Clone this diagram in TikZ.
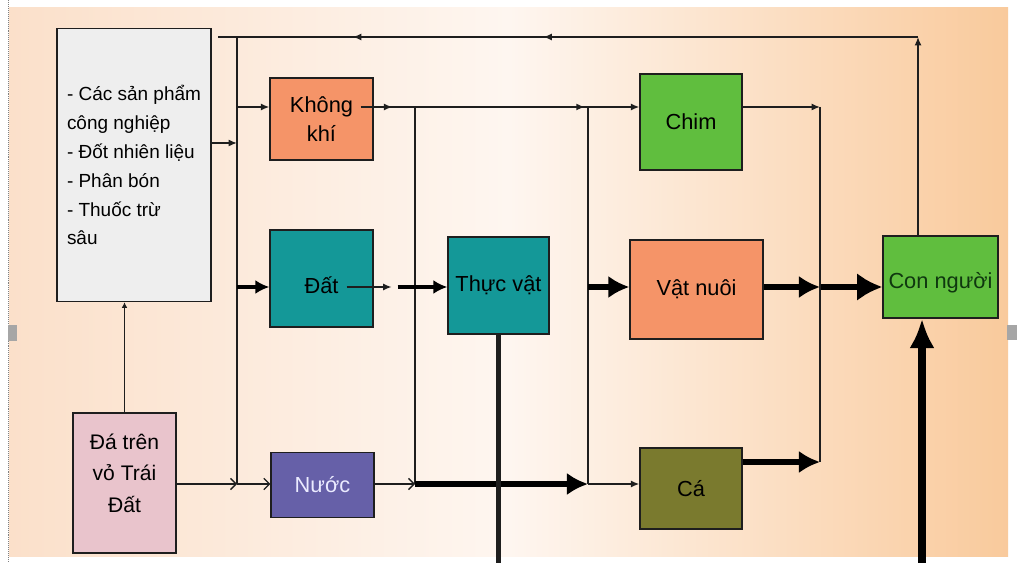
\documentclass[tikz,border=0pt]{standalone}
\usepackage{fontspec}
\setmainfont{Liberation Sans}
\usetikzlibrary{
  arrows.meta,          % Latex, Straight Barb
  calc,                 % toạ độ tính toán
  decorations.markings  % mũi tên giữa đường
}

\definecolor{cam}{RGB}{245,148,104}
\definecolor{xanhngoc}{RGB}{20,152,152}
\definecolor{tim}{RGB}{102,96,168}
\definecolor{hong}{RGB}{233,196,204}
\definecolor{xanhla}{RGB}{96,190,62}
\definecolor{reu}{RGB}{122,122,46}
\definecolor{xam}{RGB}{238,238,238}
\definecolor{net}{RGB}{30,30,30}

\begin{document}
\begin{tikzpicture}[x=0.025cm, y=-0.025cm,
  hop/.style={draw=net, line width=0.9pt, align=center, inner sep=0pt,
              font=\fontsize{15.5}{21}\selectfont},
  tron/.style={draw=net, line width=1.1pt},
  mong/.style={tron, -{Latex[length=6pt,width=5pt]}},
  mo/.style={tron, line width=0.9pt, -{Straight Barb[length=4pt,width=8pt]}},
  dam/.style={draw=black, line width=3pt, -{Latex[length=10pt,width=10pt]}},
  damto/.style={draw=black, line width=4pt, -{Latex[length=15pt,width=16pt]}}
]
  % nền của trang chiếu
  \useasboundingbox (0,0) rectangle (1017,563);
  \fill[white] (0,0) rectangle (1017,563);
  \shade[left color={rgb,255:red,251;green,224;blue,202},
         right color={rgb,255:red,249;green,202;blue,156},
         middle color={rgb,255:red,254;green,246;blue,240}]
    (9,8) rectangle (1008,556);
  \draw[gray, densely dotted] (8,0) -- (8,563);
  \fill[gray!70] (8,325) rectangle (17,341);
  \fill[gray!70] (1007,325) rectangle (1017,340);

  % hàng và cột của các đường nối
  \coordinate (hT) at (0,37);   % đường trả về phía trên
  \coordinate (hA) at (0,107);  % hàng Không khí - Chim
  \coordinate (hN) at (0,143);
  \coordinate (hB) at (0,287);  % hàng Đất - Con người
  \coordinate (hD) at (0,462);
  \coordinate (hC) at (0,484);  % hàng Nước - Cá
  \coordinate (day) at (0,563);
  \coordinate (c1) at (237,0);
  \coordinate (c2) at (415,0);
  \coordinate (c3) at (588,0);
  \coordinate (c4) at (820,0);
  \coordinate (c5) at (918,0);
  \coordinate (c6) at (922,0);

  % 1. các hộp
  \node[hop, fill=xam, minimum width=3.85cm, minimum height=6.825cm, align=left,
        font=\fontsize{13.5}{20.6}\selectfont] (nguon) at (134,165)
    {- Các sản phẩm\\công nghiệp\\- Đốt nhiên liệu\\- Phân bón\\- Thuốc trừ\\sâu};
  \node[hop, fill=hong, minimum width=2.575cm, minimum height=3.5cm,
        font=\fontsize{15}{22.7}\selectfont, text depth=14pt] (da) at (124.5,483)
    {Đá trên\\vỏ Trái\\Đất};
  \node[hop, fill=cam, minimum width=2.575cm, minimum height=2.05cm] (khongkhi) at (321.5,119) {Không\\khí};
  \node[hop, fill=xanhngoc, minimum width=2.575cm, minimum height=2.425cm,
        text height=22pt, text depth=0pt] (dat) at (321.5,278.5) {Đất};
  \node[hop, fill=tim, text=white!92!blue, minimum width=2.575cm, minimum height=1.625cm] (nuoc) at (322.5,485) {Nước};
  \node[hop, fill=xanhngoc, minimum width=2.525cm, minimum height=2.425cm] (thucvat) at (498.5,285.5) {Thực vật};
  \node[hop, fill=xanhla, minimum width=2.55cm, minimum height=2.4cm] (chim) at (691,122) {Chim};
  \node[hop, fill=cam, minimum width=3.325cm, minimum height=2.475cm] (vatnuoi) at (696.5,289.5) {Vật nuôi};
  \node[hop, fill=reu, minimum width=2.55cm, minimum height=2.025cm] (ca) at (691,488.5) {Cá};
  \node[hop, fill=xanhla, text={rgb,255:red,15;green,55;blue,15}, minimum width=2.875cm,
        minimum height=2.05cm, text height=16pt, text depth=0pt] (connguoi) at (940.5,277) {Con người};

  % 2. đường trả về từ Con người
  \draw[mong] (connguoi.north -| c5) -- (c5 |- hT);
  \draw[tron, line width=1.4pt, postaction={decorate}, decoration={markings,
      mark=at position 0.535 with {\arrow{Latex[length=6pt,width=5pt]}},
      mark=at position 0.807 with {\arrow{Latex[length=6pt,width=5pt]}}}]
    (c5 |- hT) -- ($(nguon.east |- hT)+(6,0)$);
  \draw[tron] (c1 |- hT) -- (c1 |- hC);
  \draw[mong] (nguon.east |- hN) -- (c1 |- hN);
  \draw[mong] (c1 |- hA) -- (khongkhi.west |- hA);
  \draw[dam] (c1 |- hB) -- (dat.west |- hB);
  \draw[tron, -{Latex[length=4pt,width=4pt]}] (da.north) -- (da.north |- nguon.south);
  \draw[mo] (da.east |- hC) -- (c1 |- hC);
  \draw[mo] (c1 |- hC) -- (nuoc.west |- hC);

  % 3. Không khí, Đất, Nước
  \draw[mong, postaction={decorate}, decoration={markings,
      mark=at position 0.114 with {\arrow{Latex[length=6pt,width=5pt]}},
      mark=at position 0.804 with {\arrow{Latex[length=6pt,width=5pt]}}}]
    ($(khongkhi.east |- hA)+(-13,0)$) -- (chim.west |- hA);
  \draw[tron] (c2 |- hA) -- (c2 |- hC);
  \draw[tron] (c3 |- hA) -- (c3 |- hC);
  \draw[mong] ($(dat.center |- hB)+(25,0)$) -- ($(dat.east |- hB)+(18,0)$);
  \draw[dam] ($(dat.east |- hB)+(24,0)$) -- (thucvat.west |- hB);
  \draw[mo] (nuoc.east |- hC) -- (c2 |- hC);
  \draw[damto] (c2 |- hC) -- (c3 |- hC);
  \draw[mong] (c3 |- hC) -- (ca.west |- hC);
  \draw[tron, line width=3pt] (thucvat.south) -- (thucvat.south |- day);

  % 4. về phía Con người
  \draw[damto] (c3 |- hB) -- (vatnuoi.west |- hB);
  \draw[damto] (vatnuoi.east |- hB) -- (c4 |- hB);
  \draw[damto, -{Latex[length=18pt,width=20pt]}] (c4 |- hB) -- (connguoi.west |- hB);
  \draw[mong] (chim.east |- hA) -- (c4 |- hA);
  \draw[tron] (c4 |- hA) -- (c4 |- hD);
  \draw[damto] (ca.east |- hD) -- (c4 |- hD);
  \draw[damto, line width=5.5pt, -{Latex[length=21pt,width=18pt]}] (c6 |- day) -- (connguoi.south -| c6);
\end{tikzpicture}
\end{document}
